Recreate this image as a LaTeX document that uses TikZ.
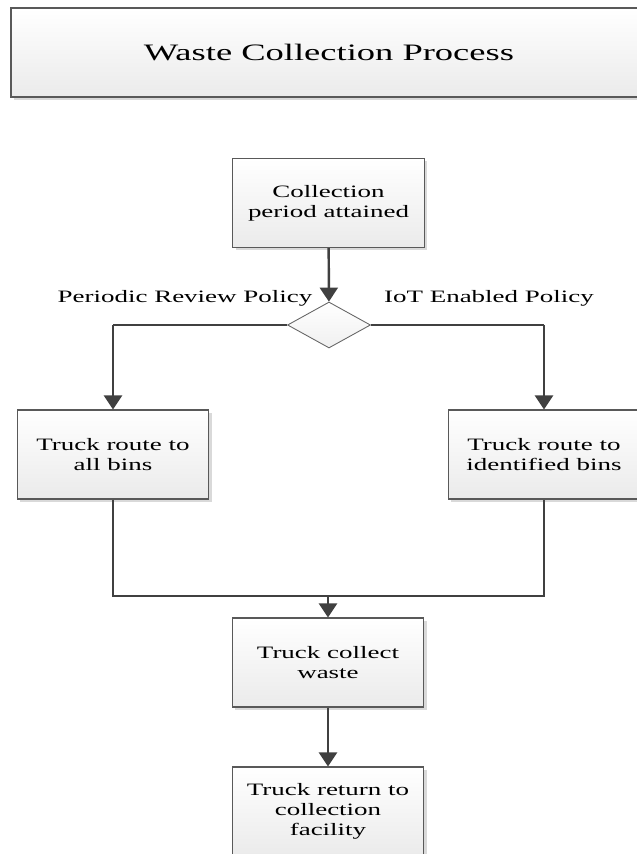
\documentclass[tikz,border=0pt]{standalone}
\usepackage{fontspec}
\setmainfont{Liberation Serif}[FakeStretch=1.55]
\usetikzlibrary{shapes.geometric,arrows.meta,shadows}

\begin{document}
\begin{tikzpicture}[
  box/.style={draw=black!65, line width=0.6pt, top color=white, bottom color=black!8,
    drop shadow={shadow xshift=0.06cm, shadow yshift=-0.06cm, fill=black!15, opacity=1},
    minimum width=3.83cm, minimum height=1.78cm, align=center, inner sep=0pt,
    font=\fontsize{9.9}{11.2}\selectfont},
  flow/.style={draw=black!75, line width=1.4pt, -{Triangle[length=0.28cm, width=0.36cm]}},
  link/.style={draw=black!75, line width=0.7pt},
  tag/.style={font=\fontsize{9.9}{11.2}\selectfont}
]
  \useasboundingbox (0, 0) rectangle (12.74, 17.08);

  % 标题
  \node[box, minimum width=12.72cm, font=\fontsize{13.4}{15}\selectfont] (title) at (6.58, 16.03) {Waste Collection Process};

  % 流程框
  \node[box] (attain)  at (6.57, 13.02) {Collection\\period attained};
  \node[diamond, draw=black!60, line width=0.5pt, top color=white, bottom color=black!6,
        minimum width=1.66cm, minimum height=0.92cm, inner sep=0pt] (choice) at (6.58, 10.58) {};
  \node[box] (allbins) at (2.26, 7.99)  {Truck route to\\all bins};
  \node[box] (idbins)  at (10.88, 7.99) {Truck route to\\identified bins};
  \node[box] (collect) at (6.56, 3.83)  {Truck collect\\waste};
  \node[box] (back)    at (6.56, 0.85)  {Truck return to\\collection\\facility};

  % 两种策略
  \node[tag] (periodic) at (3.7, 11.11)  {Periodic Review Policy};
  \node[tag] (iot)      at (9.78, 11.11) {IoT Enabled Policy};

  \draw[flow] (attain) -- (choice);

  % 分支
  \coordinate (lt) at (allbins |- choice);
  \coordinate (rt) at (idbins |- choice);
  \draw[link] (choice.west) -- (lt);
  \draw[flow] (lt) -- (allbins);
  \draw[link] (choice.east) -- (rt);
  \draw[flow] (rt) -- (idbins);

  % 汇合
  \coordinate (ml) at (2.26, 5.16);
  \coordinate (mr) at (10.88, 5.16);
  \coordinate (mm) at (collect |- ml);
  \draw[link] (allbins) -- (ml) -- (mr) -- (idbins);
  \draw[flow] (mm) -- (collect);
  \draw[flow] (collect) -- (back);
\end{tikzpicture}
\end{document}
